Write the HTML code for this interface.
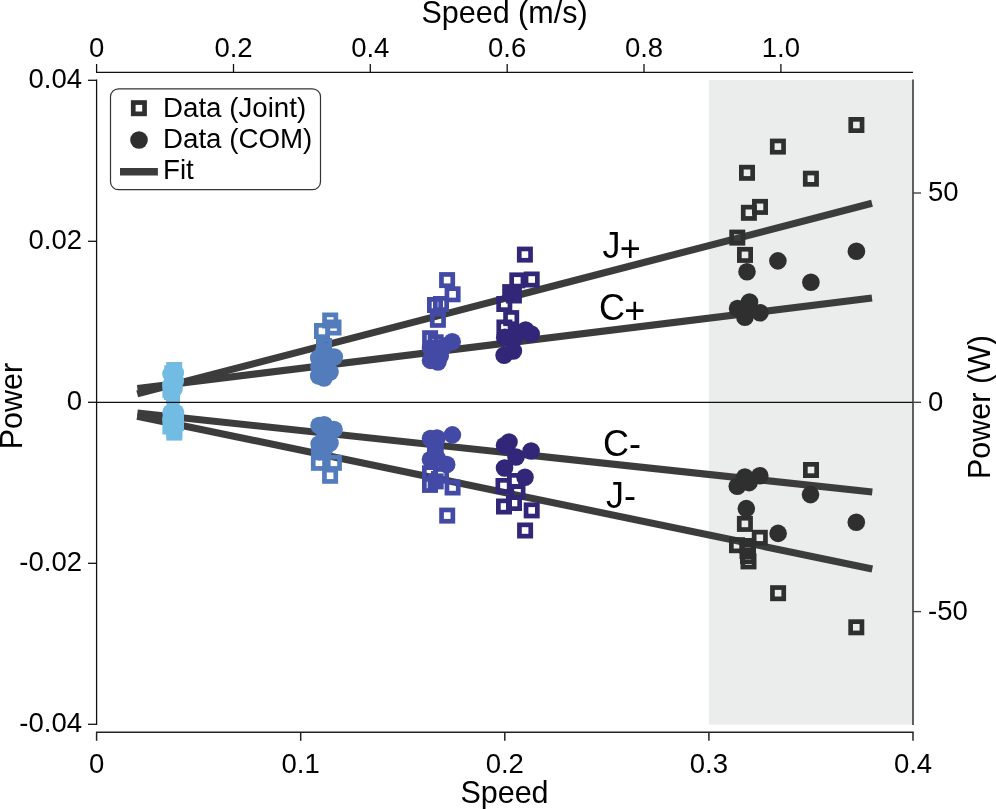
<!DOCTYPE html><html><head><meta charset="utf-8"><style>html,body{margin:0;padding:0;background:#fff;}svg{display:block;will-change:transform;}</style></head><body>
<svg width="996" height="809" viewBox="0 0 996 809" font-family="Liberation Sans, sans-serif">
<rect width="996" height="809" fill="#fff"/>
<rect x="708.9" y="80" width="204.1" height="644.7" fill="#EBEDEC"/>
<line x1="137.2" y1="393.9" x2="872.0" y2="203.3" stroke="#3C3C3C" stroke-width="7.1"/>
<line x1="137.4" y1="388.5" x2="872.0" y2="298.1" stroke="#3C3C3C" stroke-width="7.1"/>
<line x1="137.4" y1="413.0" x2="872.3" y2="492.0" stroke="#3C3C3C" stroke-width="7.1"/>
<line x1="137.2" y1="416.2" x2="872.3" y2="569.0" stroke="#3C3C3C" stroke-width="7.1"/>
<rect x="168.55" y="364.35" width="11.3" height="11.3" fill="none" stroke="#72BBE3" stroke-width="4.7"/>
<rect x="166.65" y="367.65" width="11.3" height="11.3" fill="none" stroke="#72BBE3" stroke-width="4.7"/>
<circle cx="175.30" cy="373.00" r="8.8" fill="#72BBE3"/>
<circle cx="171.00" cy="374.00" r="8.8" fill="#72BBE3"/>
<circle cx="175.30" cy="381.00" r="8.8" fill="#72BBE3"/>
<circle cx="171.00" cy="385.00" r="8.8" fill="#72BBE3"/>
<circle cx="174.00" cy="389.00" r="8.8" fill="#72BBE3"/>
<rect x="164.75" y="384.35" width="11.3" height="11.3" fill="none" stroke="#72BBE3" stroke-width="4.7"/>
<rect x="166.35" y="386.35" width="11.3" height="11.3" fill="none" stroke="#72BBE3" stroke-width="4.7"/>
<circle cx="173.00" cy="401.50" r="7.2" fill="#72BBE3"/>
<rect x="170.35" y="417.35" width="11.3" height="11.3" fill="none" stroke="#72BBE3" stroke-width="4.7"/>
<rect x="164.75" y="420.85" width="11.3" height="11.3" fill="none" stroke="#72BBE3" stroke-width="4.7"/>
<rect x="168.65" y="426.95" width="11.3" height="11.3" fill="none" stroke="#72BBE3" stroke-width="4.7"/>
<rect x="168.65" y="423.35" width="11.3" height="11.3" fill="none" stroke="#72BBE3" stroke-width="4.7"/>
<circle cx="171.00" cy="412.50" r="8.8" fill="#72BBE3"/>
<circle cx="175.50" cy="412.50" r="8.8" fill="#72BBE3"/>
<circle cx="171.00" cy="419.00" r="8.8" fill="#72BBE3"/>
<circle cx="175.30" cy="418.00" r="8.8" fill="#72BBE3"/>
<circle cx="174.00" cy="428.00" r="8.8" fill="#72BBE3"/>
<rect x="324.55" y="314.85" width="11.3" height="11.3" fill="none" stroke="#527CBC" stroke-width="4.7"/>
<rect x="327.85" y="321.85" width="11.3" height="11.3" fill="none" stroke="#527CBC" stroke-width="4.7"/>
<rect x="316.35" y="325.35" width="11.3" height="11.3" fill="none" stroke="#527CBC" stroke-width="4.7"/>
<rect x="318.35" y="340.35" width="11.3" height="11.3" fill="none" stroke="#527CBC" stroke-width="4.7"/>
<circle cx="324.00" cy="351.00" r="8.8" fill="#527CBC"/>
<circle cx="334.30" cy="357.00" r="8.8" fill="#527CBC"/>
<circle cx="318.70" cy="358.00" r="8.8" fill="#527CBC"/>
<circle cx="326.00" cy="362.00" r="8.8" fill="#527CBC"/>
<circle cx="318.70" cy="376.00" r="8.8" fill="#527CBC"/>
<circle cx="330.00" cy="372.00" r="8.8" fill="#527CBC"/>
<circle cx="324.00" cy="378.00" r="8.8" fill="#527CBC"/>
<circle cx="319.00" cy="367.00" r="8.8" fill="#527CBC"/>
<rect x="313.35" y="446.35" width="11.3" height="11.3" fill="none" stroke="#527CBC" stroke-width="4.7"/>
<circle cx="324.20" cy="424.70" r="8.8" fill="#527CBC"/>
<circle cx="319.10" cy="425.50" r="8.8" fill="#527CBC"/>
<circle cx="334.00" cy="429.50" r="8.8" fill="#527CBC"/>
<circle cx="319.10" cy="444.00" r="8.8" fill="#527CBC"/>
<circle cx="330.00" cy="443.00" r="8.8" fill="#527CBC"/>
<circle cx="325.00" cy="436.00" r="8.8" fill="#527CBC"/>
<circle cx="325.00" cy="448.00" r="8.8" fill="#527CBC"/>
<circle cx="319.50" cy="452.00" r="8.8" fill="#527CBC"/>
<rect x="313.25" y="457.15" width="11.3" height="11.3" fill="none" stroke="#527CBC" stroke-width="4.7"/>
<rect x="328.25" y="457.15" width="11.3" height="11.3" fill="none" stroke="#527CBC" stroke-width="4.7"/>
<rect x="324.45" y="470.15" width="11.3" height="11.3" fill="none" stroke="#527CBC" stroke-width="4.7"/>
<rect x="441.45" y="274.45" width="11.3" height="11.3" fill="none" stroke="#434AA6" stroke-width="4.7"/>
<rect x="446.95" y="288.65" width="11.3" height="11.3" fill="none" stroke="#434AA6" stroke-width="4.7"/>
<rect x="429.35" y="299.35" width="11.3" height="11.3" fill="none" stroke="#434AA6" stroke-width="4.7"/>
<rect x="435.35" y="298.35" width="11.3" height="11.3" fill="none" stroke="#434AA6" stroke-width="4.7"/>
<rect x="432.25" y="314.15" width="11.3" height="11.3" fill="none" stroke="#434AA6" stroke-width="4.7"/>
<rect x="424.45" y="332.55" width="11.3" height="11.3" fill="none" stroke="#434AA6" stroke-width="4.7"/>
<rect x="430.05" y="336.65" width="11.3" height="11.3" fill="none" stroke="#434AA6" stroke-width="4.7"/>
<circle cx="452.20" cy="341.80" r="8.8" fill="#434AA6"/>
<circle cx="444.00" cy="346.00" r="8.8" fill="#434AA6"/>
<circle cx="430.50" cy="348.00" r="8.8" fill="#434AA6"/>
<circle cx="440.20" cy="356.00" r="8.8" fill="#434AA6"/>
<circle cx="430.50" cy="360.40" r="8.8" fill="#434AA6"/>
<circle cx="437.90" cy="362.00" r="8.8" fill="#434AA6"/>
<rect x="427.0" y="441.0" width="16.70" height="15.00" fill="#434AA6"/>
<rect x="424.35" y="467.65" width="11.3" height="11.3" fill="none" stroke="#434AA6" stroke-width="4.7"/>
<rect x="435.35" y="469.45" width="11.3" height="11.3" fill="none" stroke="#434AA6" stroke-width="4.7"/>
<rect x="424.35" y="479.25" width="11.3" height="11.3" fill="none" stroke="#434AA6" stroke-width="4.7"/>
<rect x="430.05" y="475.75" width="11.3" height="11.3" fill="none" stroke="#434AA6" stroke-width="4.7"/>
<rect x="432.0" y="477.5" width="7.50" height="7.50" fill="#434AA6"/>
<rect x="431.0" y="471.0" width="3.00" height="3.00" fill="#434AA6"/>
<circle cx="452.40" cy="434.90" r="8.8" fill="#434AA6"/>
<circle cx="430.50" cy="438.50" r="8.8" fill="#434AA6"/>
<circle cx="437.00" cy="438.00" r="8.8" fill="#434AA6"/>
<circle cx="430.50" cy="459.50" r="8.8" fill="#434AA6"/>
<circle cx="446.70" cy="464.50" r="8.8" fill="#434AA6"/>
<circle cx="437.00" cy="458.00" r="8.8" fill="#434AA6"/>
<rect x="446.95" y="481.85" width="11.3" height="11.3" fill="none" stroke="#434AA6" stroke-width="4.7"/>
<rect x="441.55" y="509.95" width="11.3" height="11.3" fill="none" stroke="#434AA6" stroke-width="4.7"/>
<rect x="519.25" y="248.95" width="11.3" height="11.3" fill="none" stroke="#322678" stroke-width="4.7"/>
<rect x="511.65" y="274.75" width="11.3" height="11.3" fill="none" stroke="#322678" stroke-width="4.7"/>
<rect x="526.05" y="273.85" width="11.3" height="11.3" fill="none" stroke="#322678" stroke-width="4.7"/>
<rect x="504.55" y="286.45" width="11.3" height="11.3" fill="none" stroke="#322678" stroke-width="4.7"/>
<rect x="508.25" y="289.85" width="11.3" height="11.3" fill="none" stroke="#322678" stroke-width="4.7"/>
<rect x="506.5" y="288.5" width="11.50" height="11.00" fill="#322678"/>
<rect x="498.65" y="298.35" width="11.3" height="11.3" fill="none" stroke="#322678" stroke-width="4.7"/>
<rect x="505.55" y="312.45" width="11.3" height="11.3" fill="none" stroke="#322678" stroke-width="4.7"/>
<rect x="498.75" y="321.85" width="11.3" height="11.3" fill="none" stroke="#322678" stroke-width="4.7"/>
<circle cx="517.00" cy="333.00" r="8.8" fill="#322678"/>
<circle cx="525.60" cy="330.00" r="8.8" fill="#322678"/>
<circle cx="531.20" cy="334.00" r="8.8" fill="#322678"/>
<circle cx="504.70" cy="337.40" r="8.8" fill="#322678"/>
<circle cx="514.00" cy="339.00" r="8.8" fill="#322678"/>
<circle cx="504.10" cy="355.30" r="8.8" fill="#322678"/>
<circle cx="513.40" cy="351.00" r="8.8" fill="#322678"/>
<circle cx="509.00" cy="442.00" r="8.8" fill="#322678"/>
<circle cx="504.50" cy="445.50" r="8.8" fill="#322678"/>
<circle cx="531.10" cy="451.00" r="8.8" fill="#322678"/>
<circle cx="516.00" cy="457.00" r="8.8" fill="#322678"/>
<circle cx="504.50" cy="468.00" r="8.8" fill="#322678"/>
<circle cx="525.00" cy="477.30" r="8.8" fill="#322678"/>
<rect x="497.85" y="480.35" width="11.3" height="11.3" fill="none" stroke="#322678" stroke-width="4.7"/>
<rect x="509.35" y="475.35" width="11.3" height="11.3" fill="none" stroke="#322678" stroke-width="4.7"/>
<rect x="511.85" y="486.35" width="11.3" height="11.3" fill="none" stroke="#322678" stroke-width="4.7"/>
<rect x="498.35" y="500.85" width="11.3" height="11.3" fill="none" stroke="#322678" stroke-width="4.7"/>
<rect x="508.35" y="497.35" width="11.3" height="11.3" fill="none" stroke="#322678" stroke-width="4.7"/>
<rect x="526.05" y="504.75" width="11.3" height="11.3" fill="none" stroke="#322678" stroke-width="4.7"/>
<rect x="519.45" y="524.85" width="11.3" height="11.3" fill="none" stroke="#322678" stroke-width="4.7"/>
<rect x="850.75" y="119.35" width="11.3" height="11.3" fill="none" stroke="#2F2F2F" stroke-width="4.7"/>
<rect x="772.25" y="140.95" width="11.3" height="11.3" fill="none" stroke="#2F2F2F" stroke-width="4.7"/>
<rect x="741.35" y="167.15" width="11.3" height="11.3" fill="none" stroke="#2F2F2F" stroke-width="4.7"/>
<rect x="805.25" y="173.05" width="11.3" height="11.3" fill="none" stroke="#2F2F2F" stroke-width="4.7"/>
<rect x="754.35" y="201.25" width="11.3" height="11.3" fill="none" stroke="#2F2F2F" stroke-width="4.7"/>
<rect x="743.25" y="207.15" width="11.3" height="11.3" fill="none" stroke="#2F2F2F" stroke-width="4.7"/>
<rect x="731.65" y="231.95" width="11.3" height="11.3" fill="none" stroke="#2F2F2F" stroke-width="4.7"/>
<rect x="739.35" y="249.25" width="11.3" height="11.3" fill="none" stroke="#2F2F2F" stroke-width="4.7"/>
<circle cx="777.90" cy="260.90" r="8.8" fill="#2F2F2F"/>
<circle cx="856.40" cy="251.20" r="8.8" fill="#2F2F2F"/>
<circle cx="747.00" cy="271.70" r="8.8" fill="#2F2F2F"/>
<circle cx="810.90" cy="282.20" r="8.8" fill="#2F2F2F"/>
<circle cx="749.50" cy="302.00" r="8.8" fill="#2F2F2F"/>
<circle cx="737.60" cy="308.50" r="8.8" fill="#2F2F2F"/>
<circle cx="744.90" cy="317.30" r="8.8" fill="#2F2F2F"/>
<circle cx="760.00" cy="312.80" r="8.8" fill="#2F2F2F"/>
<circle cx="744.90" cy="477.00" r="8.8" fill="#2F2F2F"/>
<circle cx="759.80" cy="475.80" r="8.8" fill="#2F2F2F"/>
<circle cx="737.30" cy="486.30" r="8.8" fill="#2F2F2F"/>
<circle cx="749.10" cy="482.60" r="8.8" fill="#2F2F2F"/>
<circle cx="746.30" cy="508.60" r="8.8" fill="#2F2F2F"/>
<circle cx="810.50" cy="494.60" r="8.8" fill="#2F2F2F"/>
<circle cx="778.10" cy="533.40" r="8.8" fill="#2F2F2F"/>
<circle cx="856.30" cy="522.30" r="8.8" fill="#2F2F2F"/>
<rect x="805.35" y="464.35" width="11.3" height="11.3" fill="none" stroke="#2F2F2F" stroke-width="4.7"/>
<rect x="739.25" y="518.25" width="11.3" height="11.3" fill="none" stroke="#2F2F2F" stroke-width="4.7"/>
<rect x="754.15" y="532.15" width="11.3" height="11.3" fill="none" stroke="#2F2F2F" stroke-width="4.7"/>
<rect x="731.35" y="539.55" width="11.3" height="11.3" fill="none" stroke="#2F2F2F" stroke-width="4.7"/>
<rect x="741.85" y="540.35" width="11.3" height="11.3" fill="none" stroke="#2F2F2F" stroke-width="4.7"/>
<rect x="741.85" y="545.35" width="11.3" height="11.3" fill="none" stroke="#2F2F2F" stroke-width="4.7"/>
<rect x="742.35" y="550.35" width="11.3" height="11.3" fill="none" stroke="#2F2F2F" stroke-width="4.7"/>
<rect x="742.85" y="555.75" width="11.3" height="11.3" fill="none" stroke="#2F2F2F" stroke-width="4.7"/>
<rect x="772.45" y="587.55" width="11.3" height="11.3" fill="none" stroke="#2F2F2F" stroke-width="4.7"/>
<rect x="850.65" y="621.65" width="11.3" height="11.3" fill="none" stroke="#2F2F2F" stroke-width="4.7"/>
<line x1="96" y1="402.3" x2="913" y2="402.3" stroke="#111" stroke-width="1.3"/>
<line x1="96.6" y1="79.6" x2="96.6" y2="724.9" stroke="#111" stroke-width="1.3" fill="none"/>
<line x1="88" y1="80.3" x2="96.6" y2="80.3" stroke="#111" stroke-width="1.3" fill="none"/>
<text x="82" y="88.1" font-size="27.5" text-anchor="end" fill="#000">0.04</text>
<line x1="88" y1="241.3" x2="96.6" y2="241.3" stroke="#111" stroke-width="1.3" fill="none"/>
<text x="82" y="249.1" font-size="27.5" text-anchor="end" fill="#000">0.02</text>
<line x1="88" y1="402.3" x2="96.6" y2="402.3" stroke="#111" stroke-width="1.3" fill="none"/>
<text x="82" y="410.1" font-size="27.5" text-anchor="end" fill="#000">0</text>
<line x1="88" y1="563.3" x2="96.6" y2="563.3" stroke="#111" stroke-width="1.3" fill="none"/>
<text x="82" y="571.1" font-size="27.5" text-anchor="end" fill="#000">-0.02</text>
<line x1="88" y1="724.3" x2="96.6" y2="724.3" stroke="#111" stroke-width="1.3" fill="none"/>
<text x="82" y="732.1" font-size="27.5" text-anchor="end" fill="#000">-0.04</text>
<line x1="913" y1="79.6" x2="913" y2="724.9" stroke="#3a3a3a" stroke-width="1.6"/>
<line x1="913" y1="193.0" x2="921" y2="193.0" stroke="#444" stroke-width="1.4"/>
<text x="928" y="201.3" font-size="27.5" fill="#000">50</text>
<line x1="913" y1="402.3" x2="921" y2="402.3" stroke="#444" stroke-width="1.4"/>
<text x="928" y="410.6" font-size="27.5" fill="#000">0</text>
<line x1="913" y1="611.6" x2="921" y2="611.6" stroke="#444" stroke-width="1.4"/>
<text x="928" y="619.9" font-size="27.5" fill="#000">-50</text>
<line x1="96" y1="732.2" x2="913.7" y2="732.2" stroke="#222" stroke-width="1.5"/>
<line x1="96.6" y1="732.2" x2="96.6" y2="740.8" stroke="#222" stroke-width="1.5"/>
<text x="96.6" y="772.8" font-size="27.5" text-anchor="middle" fill="#000">0</text>
<line x1="300.7" y1="732.2" x2="300.7" y2="740.8" stroke="#222" stroke-width="1.5"/>
<text x="300.7" y="772.8" font-size="27.5" text-anchor="middle" fill="#000">0.1</text>
<line x1="504.8" y1="732.2" x2="504.8" y2="740.8" stroke="#222" stroke-width="1.5"/>
<text x="504.8" y="772.8" font-size="27.5" text-anchor="middle" fill="#000">0.2</text>
<line x1="708.9" y1="732.2" x2="708.9" y2="740.8" stroke="#222" stroke-width="1.5"/>
<text x="708.9" y="772.8" font-size="27.5" text-anchor="middle" fill="#000">0.3</text>
<line x1="913.0" y1="732.2" x2="913.0" y2="740.8" stroke="#222" stroke-width="1.5"/>
<text x="913.0" y="772.8" font-size="27.5" text-anchor="middle" fill="#000">0.4</text>
<line x1="96" y1="72.3" x2="913" y2="72.3" stroke="#111" stroke-width="1.3" fill="none"/>
<line x1="96.6" y1="64" x2="96.6" y2="72.3" stroke="#111" stroke-width="1.3" fill="none"/>
<text x="96.6" y="57" font-size="27.5" text-anchor="middle" fill="#000">0</text>
<line x1="233.5" y1="64" x2="233.5" y2="72.3" stroke="#111" stroke-width="1.3" fill="none"/>
<text x="233.5" y="57" font-size="27.5" text-anchor="middle" fill="#000">0.2</text>
<line x1="370.3" y1="64" x2="370.3" y2="72.3" stroke="#111" stroke-width="1.3" fill="none"/>
<text x="370.3" y="57" font-size="27.5" text-anchor="middle" fill="#000">0.4</text>
<line x1="507.2" y1="64" x2="507.2" y2="72.3" stroke="#111" stroke-width="1.3" fill="none"/>
<text x="507.2" y="57" font-size="27.5" text-anchor="middle" fill="#000">0.6</text>
<line x1="644.0" y1="64" x2="644.0" y2="72.3" stroke="#111" stroke-width="1.3" fill="none"/>
<text x="644.0" y="57" font-size="27.5" text-anchor="middle" fill="#000">0.8</text>
<line x1="780.9" y1="64" x2="780.9" y2="72.3" stroke="#111" stroke-width="1.3" fill="none"/>
<text x="780.9" y="57" font-size="27.5" text-anchor="middle" fill="#000">1.0</text>
<text x="504.5" y="802.5" font-size="30.5" text-anchor="middle" fill="#000">Speed</text>
<text x="504.5" y="22.8" font-size="30.5" text-anchor="middle" fill="#000">Speed (m/s)</text>
<text transform="translate(21.7,406) rotate(-90)" font-size="30.5" text-anchor="middle" fill="#000">Power</text>
<text transform="translate(990,407) rotate(-90)" font-size="30.5" text-anchor="middle" fill="#000">Power (W)</text>
<text x="602.5" y="258.1" font-size="36" fill="#000">J<tspan dy="3.2" dx="-0.8">+</tspan></text>
<text x="599" y="319.8" font-size="36" fill="#000">C<tspan dy="3.2" dx="-0.8">+</tspan></text>
<text x="603" y="455.6" font-size="36" fill="#000">C-</text>
<text x="606" y="507.5" font-size="36" fill="#000">J-</text>
<rect x="110.5" y="88.8" width="210" height="100.9" rx="8" ry="8" fill="#fff" stroke="#333" stroke-width="1.2"/>
<rect x="133.25" y="102.55" width="11.3" height="11.3" fill="none" stroke="#2F2F2F" stroke-width="4.7"/>
<circle cx="139.00" cy="140.00" r="8.8" fill="#2F2F2F"/>
<line x1="120" y1="171.7" x2="157.9" y2="171.7" stroke="#3C3C3C" stroke-width="7.4"/>
<text x="163" y="117" font-size="27.7" fill="#000">Data (Joint)</text>
<text x="163" y="148.1" font-size="27.7" fill="#000">Data (COM)</text>
<text x="163" y="179.3" font-size="27.7" fill="#000">Fit</text>
</svg></body></html>
